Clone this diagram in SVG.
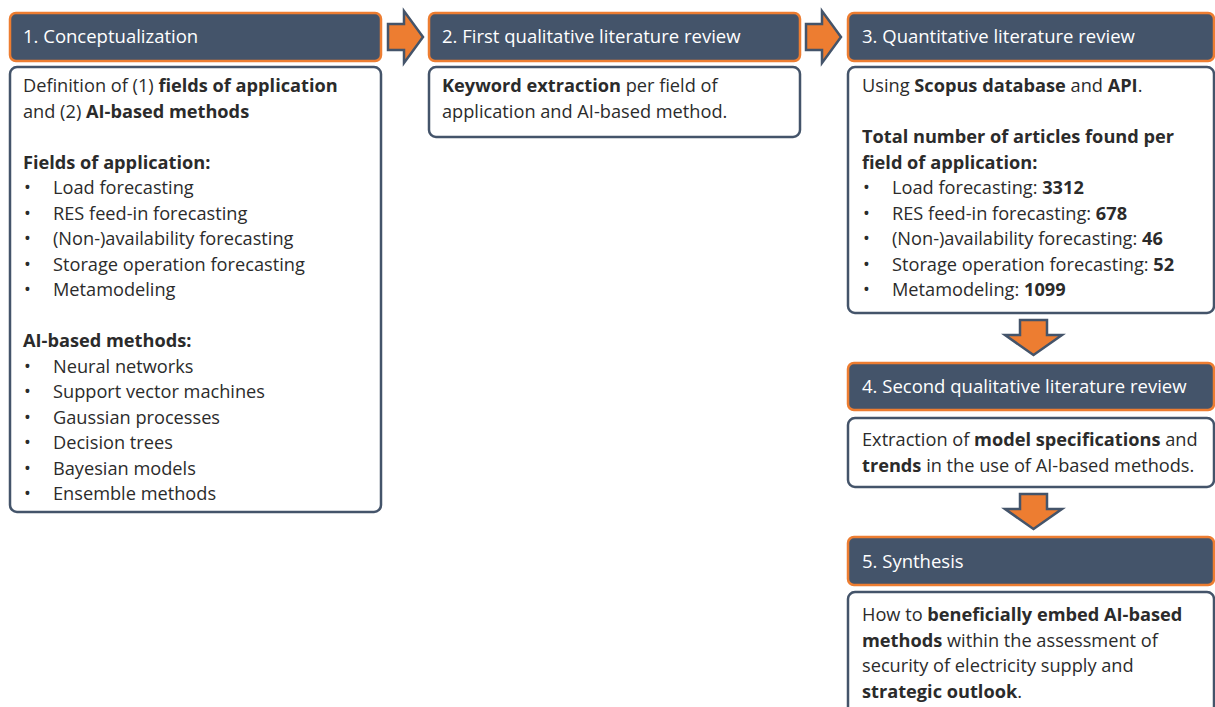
<svg xmlns="http://www.w3.org/2000/svg" width="1215" height="707" viewBox="0 0 1215 707">
<style>
.hdr{fill:#44546A;stroke:#ED7D31;stroke-width:2.5}
.body{fill:#fff;stroke:#44546A;stroke-width:2.5}
.ht{font-family:"Open Sans","Liberation Sans",sans-serif;font-size:18.5px;fill:#fff}
.t{font-family:"Open Sans","Liberation Sans",sans-serif;font-size:18.2px;fill:#2b2b2b}
.b{font-weight:bold}
.arr{fill:#ED7D31;stroke:#44546A;stroke-width:2.5;stroke-linejoin:miter}
</style>
<g id="connectors">
<path class="arr" d="M388,24 H404 V11 L423,37 L404,63 V50 H388 Z"/>
<path class="arr" d="M806,24 H822 V11 L841,37 L822,63 V50 H806 Z"/>
<path class="arr" d="M1020,320 H1047 V335 H1062 L1033.5,355 L1005,335 H1020 Z"/>
<path class="arr" d="M1020,494 H1047 V509 H1062 L1033.5,529 L1005,509 H1020 Z"/>
</g>
<g id="node1">
<rect class="hdr" x="10" y="13" width="371" height="48" rx="6"/>
<text class="ht" x="23" y="43">1. Conceptualization</text>
<rect class="body" x="10" y="67" width="371" height="445" rx="7"/>
<text class="t" x="23" y="92">Definition of (1) <tspan class="b">fields of application</tspan></text>
<text class="t" x="23" y="117.5">and (2) <tspan class="b">AI-based methods</tspan></text>
<text class="t b" x="23" y="168.5">Fields of application:</text>
<text class="t" x="24" y="194">•</text><text class="t" x="53" y="194">Load forecasting</text>
<text class="t" x="24" y="219.5">•</text><text class="t" x="53" y="219.5">RES feed-in forecasting</text>
<text class="t" x="24" y="245">•</text><text class="t" x="53" y="245">(Non-)availability forecasting</text>
<text class="t" x="24" y="270.5">•</text><text class="t" x="53" y="270.5">Storage operation forecasting</text>
<text class="t" x="24" y="296">•</text><text class="t" x="53" y="296">Metamodeling</text>
<text class="t b" x="23" y="347">AI-based methods:</text>
<text class="t" x="24" y="372.5">•</text><text class="t" x="53" y="372.5">Neural networks</text>
<text class="t" x="24" y="398">•</text><text class="t" x="53" y="398">Support vector machines</text>
<text class="t" x="24" y="423.5">•</text><text class="t" x="53" y="423.5">Gaussian processes</text>
<text class="t" x="24" y="449">•</text><text class="t" x="53" y="449">Decision trees</text>
<text class="t" x="24" y="474.5">•</text><text class="t" x="53" y="474.5">Bayesian models</text>
<text class="t" x="24" y="500">•</text><text class="t" x="53" y="500">Ensemble methods</text>
</g>
<g id="node2">
<rect class="hdr" x="429" y="13" width="371" height="48" rx="6"/>
<text class="ht" x="442" y="43">2. First qualitative literature review</text>
<rect class="body" x="429" y="67" width="371" height="70" rx="7"/>
<text class="t" x="442" y="92"><tspan class="b">Keyword extraction</tspan> per field of</text>
<text class="t" x="442" y="117.5">application and AI-based method.</text>
</g>
<g id="node3">
<rect class="hdr" x="848" y="13" width="366" height="48" rx="6"/>
<text class="ht" x="862" y="43">3. Quantitative literature review</text>
<rect class="body" x="848" y="67" width="366" height="246" rx="7"/>
<text class="t" x="862" y="92">Using <tspan class="b">Scopus database</tspan> and <tspan class="b">API</tspan>.</text>
<text class="t b" x="862" y="143">Total number of articles found per</text>
<text class="t b" x="862" y="168.5">field of application:</text>
<text class="t" x="863" y="194">•</text><text class="t" x="892" y="194">Load forecasting: <tspan class="b">3312</tspan></text>
<text class="t" x="863" y="219.5">•</text><text class="t" x="892" y="219.5">RES feed-in forecasting: <tspan class="b">678</tspan></text>
<text class="t" x="863" y="245">•</text><text class="t" x="892" y="245">(Non-)availability forecasting: <tspan class="b">46</tspan></text>
<text class="t" x="863" y="270.5">•</text><text class="t" x="892" y="270.5">Storage operation forecasting: <tspan class="b">52</tspan></text>
<text class="t" x="863" y="296">•</text><text class="t" x="892" y="296">Metamodeling: <tspan class="b">1099</tspan></text>
</g>
<g id="node4">
<rect class="hdr" x="848" y="363" width="366" height="47" rx="6"/>
<text class="ht" x="862" y="393">4. Second qualitative literature review</text>
<rect class="body" x="848" y="418" width="366" height="69" rx="7"/>
<text class="t" x="862" y="446">Extraction of <tspan class="b">model specifications</tspan> and</text>
<text class="t" x="862" y="471.5"><tspan class="b">trends</tspan> in the use of AI-based methods.</text>
</g>
<g id="node5">
<rect class="hdr" x="848" y="537" width="366" height="48" rx="6"/>
<text class="ht" x="862" y="568">5. Synthesis</text>
<rect class="body" x="848" y="592" width="366" height="130" rx="7"/>
<text class="t" x="862" y="621">How to <tspan class="b">beneficially embed AI-based</tspan></text>
<text class="t" x="862" y="646.5"><tspan class="b">methods</tspan> within the assessment of</text>
<text class="t" x="862" y="672">security of electricity supply and</text>
<text class="t" x="862" y="697.5"><tspan class="b">strategic outlook</tspan>.</text>
</g>
</svg>
